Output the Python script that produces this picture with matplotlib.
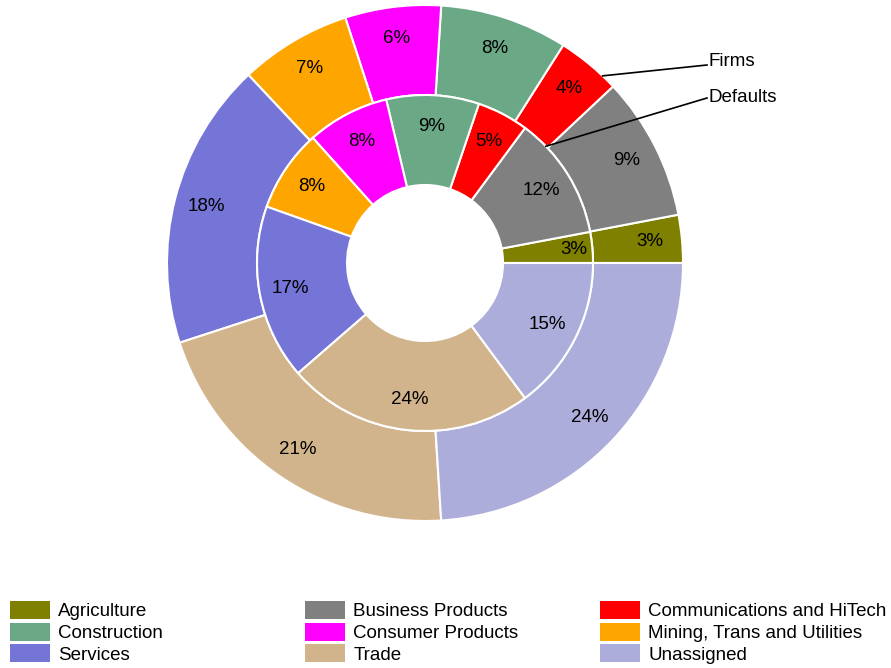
import numpy as np
import matplotlib.pyplot as plt
from matplotlib.patches import Patch

plt.rcParams['font.family'] = ['Liberation Sans', 'DejaVu Sans']

sectors = ['Agriculture', 'Business Products', 'Communications and HiTech',
           'Construction', 'Consumer Products', 'Mining, Trans and Utilities',
           'Services', 'Trade', 'Unassigned']
firms = [3, 9, 4, 8, 6, 7, 18, 21, 24]
defaults = [3, 12, 5, 9, 8, 8, 17, 24, 15]
colors = ['#808000', '#808080', '#FF0000', '#6AA886', '#FF00FF', '#FFA500',
          '#7575D8', '#D2B48C', '#ADADDB']

W, H = 891, 668
fig = plt.figure(figsize=(W / 100, H / 100), dpi=100)
ax = fig.add_axes([0, 0, 1, 1])

cx, cy = 425, 405
r_out, r_mid, r_in = 258, 168, 78
fs = 13.5


def ring(values, radius, width, label_r):
    wedges, _ = ax.pie(values, radius=radius, center=(cx, cy), startangle=0,
                       counterclock=True, colors=colors,
                       wedgeprops=dict(width=width, edgecolor='white', linewidth=1.5))
    for w, v in zip(wedges, values):
        a = np.deg2rad((w.theta1 + w.theta2) / 2)
        # thin slices get their label pushed outward a bit
        r = label_r + (12 if v <= 3 and radius < r_out else 0)
        ax.text(cx + r * np.cos(a), cy + r * np.sin(a), f'{v}%',
                ha='center', va='center', fontsize=fs)
    return wedges


ring(firms, r_out, r_out - r_mid, 226)
ring(defaults, r_mid, r_mid - r_in, 137)

# leader lines for the two rings
a_f, a_d = np.deg2rad(46.5), np.deg2rad(44)
ax.plot([cx + r_out * np.cos(a_f), 707], [cy + r_out * np.sin(a_f), H - 65],
        color='black', lw=1.2)
ax.text(709, H - 62, 'Firms', ha='left', va='center', fontsize=fs)
ax.plot([cx + r_mid * np.cos(a_d), 707], [cy + r_mid * np.sin(a_d), H - 98],
        color='black', lw=1.2)
ax.text(709, H - 98, 'Defaults', ha='left', va='center', fontsize=fs)

ax.set_xlim(0, W)
ax.set_ylim(0, H)
ax.set_aspect('equal')
ax.axis('off')

# legend: three columns, filled row by row
handles = [Patch(facecolor=c, edgecolor='none') for c in colors]
for col, x0 in enumerate([10, 305, 600]):
    idx = [col, col + 3, col + 6]
    fig.legend([handles[i] for i in idx], [sectors[i] for i in idx],
               loc='upper left', bbox_to_anchor=(x0 / W, 1 - 601 / H),
               frameon=False, borderpad=0, borderaxespad=0, fontsize=fs,
               handlelength=2.15, handleheight=1.1, handletextpad=0.42,
               labelspacing=0.12)

fig.savefig('out.png', dpi=100)
